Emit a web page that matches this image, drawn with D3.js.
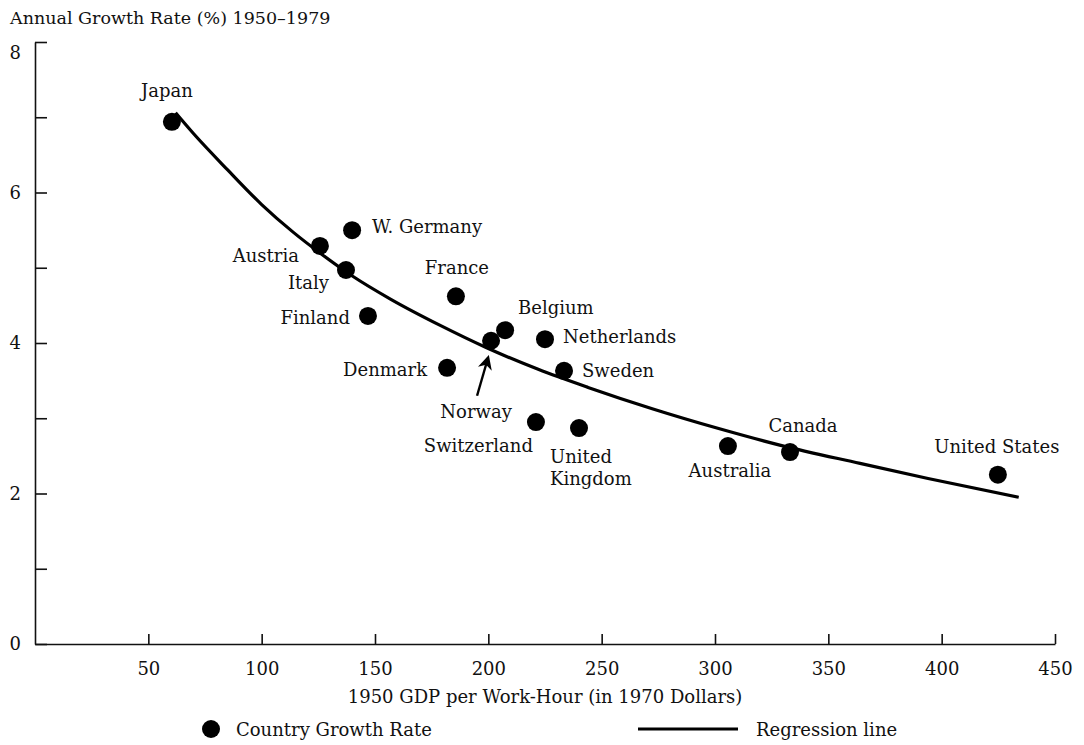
<!DOCTYPE html>
<html>
<head>
<meta charset="utf-8">
<script src="https://cdnjs.cloudflare.com/ajax/libs/d3/7.8.5/d3.min.js"></script>
<style>
    body { margin: 0; background: #fff; }
    svg text { font-family: "DejaVu Serif", serif; fill: #111; }
</style>
</head>
<body>
<div id="chart"></div>
<script>
// country points
const countries = ["Japan", "Austria", "W. Germany", "Italy", "Finland", "France", "Belgium", "Norway",
    "Netherlands", "Denmark", "Sweden", "Switzerland", "United Kingdom", "Australia", "Canada", "United States"];
const gdpPerHour = [60.4, 125.7, 139.9, 137.2, 146.9, 185.7, 207.4, 201.2, 225.0, 181.8, 233.4, 221.0, 240.0, 305.7, 333.1, 424.8];
const growthRate = [6.94, 5.29, 5.50, 4.97, 4.36, 4.62, 4.17, 4.03, 4.05, 3.67, 3.63, 2.95, 2.87, 2.63, 2.55, 2.25];

// regression curve
const regressionX = [62, 70, 85, 100, 114, 126, 140, 157, 179, 199, 222, 244, 273, 302, 329, 364, 394, 434];
const regressionY = [7.06, 6.78, 6.30, 5.84, 5.47, 5.19, 4.89, 4.58, 4.23, 3.94, 3.65, 3.41, 3.12, 2.86, 2.64, 2.40, 2.20, 1.95];

const xTicks = [50, 100, 150, 200, 250, 300, 350, 400, 450];
const yTicks = [0, 1, 2, 3, 4, 5, 6, 7, 8];
const yLabelled = [0, 2, 4, 6, 8];

const titleText = "Annual Growth Rate (%) 1950\u20131979";
const xTitleText = "1950 GDP per Work-Hour (in 1970 Dollars)";
const legendItems = ["Country Growth Rate", "Regression line"];

const W = 1084, H = 745;
const fs = 18;

const svg = d3.select("#chart").append("svg")
    .attr("width", W)
    .attr("height", H);

const x = d3.scaleLinear().domain([0, 450]).range([35, 1055]);
const y = d3.scaleLinear().domain([0, 8]).range([644, 42]);

// axes
const xAxis = svg.append("g")
    .attr("transform", "translate(0," + y(0) + ")")
    .call(d3.axisBottom(x).tickValues(xTicks).tickSize(-10).tickSizeOuter(0).tickPadding(18));
const yAxis = svg.append("g")
    .attr("transform", "translate(" + x(0) + ",0)")
    .call(d3.axisLeft(y).tickValues(yTicks).tickSize(-12).tickSizeOuter(0).tickPadding(14)
        .tickFormat(d => yLabelled.includes(d) ? d : ""));

[xAxis, yAxis].forEach(g => {
    g.selectAll("path, line").attr("stroke", "#111").attr("stroke-width", 1.6);
    g.selectAll("text").style("font-size", fs + "px").attr("fill", "#111");
});
// top label sits a little under its tick in the original
yAxis.selectAll(".tick text").filter(d => d === 8).attr("dy", "0.9em");

// regression line
const line = d3.line()
    .x(d => x(d[0]))
    .y(d => y(d[1]))
    .curve(d3.curveMonotoneX);
svg.append("path")
    .datum(regressionX.map((v, i) => [v, regressionY[i]]))
    .attr("d", line)
    .attr("fill", "none")
    .attr("stroke", "#000")
    .attr("stroke-width", 3.2);

// points
const pts = countries.map((c, i) => ({name: c, gdp: gdpPerHour[i], rate: growthRate[i]}));
svg.selectAll("circle.pt").data(pts).enter().append("circle")
    .attr("class", "pt")
    .attr("cx", d => x(d.gdp))
    .attr("cy", d => y(d.rate))
    .attr("r", 9)
    .attr("fill", "#000");

// label placement relative to each point (px)
const place = {
    "Japan": {dx: -5, dy: -25, a: "middle"},
    "Austria": {dx: -21, dy: 16, a: "end"},
    "W. Germany": {dx: 20, dy: 3, a: "start"},
    "Italy": {dx: -17, dy: 19, a: "end"},
    "Finland": {dx: -18, dy: 8, a: "end"},
    "France": {dx: 1, dy: -22, a: "middle"},
    "Belgium": {dx: 13, dy: -16, a: "start"},
    "Norway": {dx: -15, dy: 77, a: "middle"},
    "Netherlands": {dx: 18, dy: 4, a: "start"},
    "Denmark": {dx: -20, dy: 8, a: "end"},
    "Sweden": {dx: 18, dy: 6, a: "start"},
    "Switzerland": {dx: -3, dy: 30, a: "end"},
    "United Kingdom": {dx: -29, dy: 35, a: "start", lines: ["United", "Kingdom"]},
    "Australia": {dx: 2, dy: 31, a: "middle"},
    "Canada": {dx: 13, dy: -20, a: "middle"},
    "United States": {dx: -1, dy: -22, a: "middle"}
};

pts.forEach(d => {
    const p = place[d.name];
    const t = svg.append("text")
        .attr("x", x(d.gdp) + p.dx)
        .attr("y", y(d.rate) + p.dy)
        .attr("text-anchor", p.a)
        .style("font-size", fs + "px");
    (p.lines || [d.name]).forEach((s, k) => {
        t.append("tspan")
            .attr("x", x(d.gdp) + p.dx)
            .attr("dy", k === 0 ? 0 : 22)
            .text(s);
    });
});

// arrow from Norway label to its point
svg.append("defs").append("marker")
    .attr("id", "arrow")
    .attr("viewBox", "0 0 10 10")
    .attr("refX", 8).attr("refY", 5)
    .attr("markerWidth", 6).attr("markerHeight", 6)
    .attr("orient", "auto")
    .append("path").attr("d", "M0,0 L10,5 L0,10 L3,5 z").attr("fill", "#000");
const nor = pts.find(d => d.name === "Norway");
svg.append("line")
    .attr("x1", x(nor.gdp) - 14).attr("y1", y(nor.rate) + 55)
    .attr("x2", x(nor.gdp) - 3).attr("y2", y(nor.rate) + 17)
    .attr("stroke", "#000")
    .attr("stroke-width", 2.4)
    .attr("marker-end", "url(#arrow)");

// titles
svg.append("text")
    .attr("x", 10).attr("y", 24)
    .style("font-size", "17.5px")
    .text(titleText);
svg.append("text")
    .attr("x", 545).attr("y", 703)
    .attr("text-anchor", "middle")
    .style("font-size", fs + "px")
    .text(xTitleText);

// legend
svg.append("circle").attr("cx", 211).attr("cy", 729).attr("r", 9).attr("fill", "#000");
svg.append("text").attr("x", 236).attr("y", 736).style("font-size", fs + "px").text(legendItems[0]);
svg.append("line").attr("x1", 638).attr("x2", 738).attr("y1", 729).attr("y2", 729)
    .attr("stroke", "#000").attr("stroke-width", 3.2);
svg.append("text").attr("x", 756).attr("y", 736).style("font-size", fs + "px").text(legendItems[1]);
</script>
</body>
</html>
